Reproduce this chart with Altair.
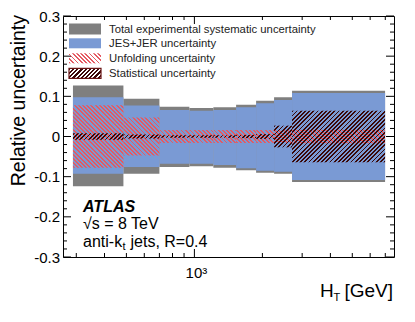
import math
import altair as alt
import pandas as pd

# ---------------- data ----------------
bin_lo = [290, 485, 700, 950, 1213, 1530, 1876, 2253, 2706]
bin_hi = [485, 700, 950, 1213, 1530, 1876, 2253, 2706, 6985]
tot_up = [0.127, 0.094, 0.074, 0.071, 0.073, 0.079, 0.089, 0.098, 0.114]
tot_dn = [-0.124, -0.093, -0.076, -0.074, -0.078, -0.084, -0.090, -0.093, -0.113]
jes_up = [0.0975, 0.077, 0.066, 0.064, 0.066, 0.073, 0.083, 0.091, 0.108]
jes_dn = [-0.093, -0.076, -0.068, -0.068, -0.071, -0.079, -0.085, -0.088, -0.108]
unf = [0.078, 0.047, 0.016, 0.016, 0.016, 0.016, 0.016, 0.016, 0.017]
stat = [0.008, 0.005, 0.003, 0.003, 0.003, 0.004, 0.006, 0.027, 0.064]

y_major = [-0.3, -0.2, -0.1, 0.0, 0.1, 0.2, 0.3]
y_labels = ["-0.3", "-0.2", "-0.1", "0", "0.1", "0.2", "0.3"]
y_minor = [round(i / 50, 2) for i in range(-15, 16) if i % 5 != 0]
x_major = [1000]
x_labels = ["10³"]
x_minor = [300, 400, 500, 600, 700, 800, 900, 2000, 3000, 4000, 5000, 6000, 7000]

legend_labels = [
    "Total experimental systematic uncertainty",
    "JES+JER uncertainty",
    "Unfolding uncertainty",
    "Statistical uncertainty",
]

# ---------------- style ----------------
FONT = "Liberation Sans"
W, H = 331, 241
X_DOMAIN = [262, 7650]
Y_DOMAIN = [-0.3, 0.3]
GREY = "#7f7f7f"
BLUE = "#7a9ad4"
RED = "#e45a62"
DARK = "#3a0808"
CLEAR = "rgba(255,255,255,0)"


def xpix(v):
    l0, l1 = math.log10(X_DOMAIN[0]), math.log10(X_DOMAIN[1])
    return W * (math.log10(v) - l0) / (l1 - l0)


def hpix(dy):
    return H * dy / (Y_DOMAIN[1] - Y_DOMAIN[0])


def hatch(w, h, color, slash, period=4.2, frac=0.45):
    """Diagonal stripes as a linear gradient in bounding-box units."""
    total = w + h
    n = int(math.ceil(total / period))
    stops = []
    for k in range(n):
        a = k * period / total
        if a >= 1:
            break
        b = min(1.0, (k + frac) * period / total)
        c = min(1.0, (k + 1) * period / total)
        stops += [
            {"offset": round(a, 5), "color": color},
            {"offset": round(b, 5), "color": color},
            {"offset": round(b, 5), "color": CLEAR},
            {"offset": round(c, 5), "color": CLEAR},
        ]
    kk = total / (w * w + h * h)
    if slash:
        x1, y1, x2, y2 = 0, 0, kk * w, kk * h
    else:
        x1, y1, x2, y2 = 0, 1, kk * w, 1 - kk * h
    return {"gradient": "linear", "x1": x1, "y1": y1, "x2": x2, "y2": y2, "stops": stops}


df = pd.DataFrame({
    "idx": list(range(len(bin_lo))),
    "lo": bin_lo, "hi": bin_hi,
    "tot_up": tot_up, "tot_dn": tot_dn,
    "jes_up": jes_up, "jes_dn": jes_dn,
    "unf_up": unf, "unf_dn": [-u for u in unf],
    "stat_up": stat, "stat_dn": [-s for s in stat],
})

xscale = alt.Scale(type="log", domain=X_DOMAIN, nice=False)
yscale = alt.Scale(domain=Y_DOMAIN, nice=False, zero=False)

layers = []

# total systematic (grey)
layers.append(alt.Chart(df).mark_rect(fill=GREY).encode(
    x=alt.X("lo:Q", scale=xscale, axis=None), x2="hi:Q",
    y=alt.Y("tot_dn:Q", scale=yscale, axis=None), y2="tot_up:Q"))

# JES+JER (blue)
layers.append(alt.Chart(df).mark_rect(fill=BLUE).encode(
    x=alt.X("lo:Q", axis=None), x2="hi:Q",
    y=alt.Y("jes_dn:Q", axis=None), y2="jes_up:Q"))

# unfolding (red hatch) and statistical (dark hatch), one layer per bin
for i in range(len(bin_lo)):
    w = xpix(bin_hi[i]) - xpix(bin_lo[i])
    layers.append(alt.Chart(df).transform_filter(alt.datum.idx == i).mark_rect(
        fill=hatch(w, hpix(2 * unf[i]), RED, slash=False)).encode(
        x=alt.X("lo:Q", axis=None), x2="hi:Q",
        y=alt.Y("unf_dn:Q", axis=None), y2="unf_up:Q"))
for i in range(len(bin_lo)):
    w = xpix(bin_hi[i]) - xpix(bin_lo[i])
    layers.append(alt.Chart(df).transform_filter(alt.datum.idx == i).mark_rect(
        fill=hatch(w, max(hpix(2 * stat[i]), 1), DARK, slash=True, frac=0.42)).encode(
        x=alt.X("lo:Q", axis=None), x2="hi:Q",
        y=alt.Y("stat_dn:Q", axis=None), y2="stat_up:Q"))

# inward ticks on all four sides
ymaj = pd.DataFrame({"v": y_major, "lab": y_labels})
ymin = pd.DataFrame({"v": y_minor})
xmaj = pd.DataFrame({"v": x_major, "lab": x_labels})
xmin = pd.DataFrame({"v": x_minor})
for d, L in ((ymaj, 8), (ymin, 4)):
    layers.append(alt.Chart(d).mark_rule(color="black", strokeWidth=1).encode(
        y=alt.Y("v:Q", axis=None), x=alt.value(0), x2=alt.value(L)))
    layers.append(alt.Chart(d).mark_rule(color="black", strokeWidth=1).encode(
        y=alt.Y("v:Q", axis=None), x=alt.value(W), x2=alt.value(W - L)))
for d, L in ((xmaj, 8), (xmin, 4)):
    layers.append(alt.Chart(d).mark_rule(color="black", strokeWidth=1).encode(
        x=alt.X("v:Q", axis=None), y=alt.value(H), y2=alt.value(H - L)))
    layers.append(alt.Chart(d).mark_rule(color="black", strokeWidth=1).encode(
        x=alt.X("v:Q", axis=None), y=alt.value(0), y2=alt.value(L)))

# tick labels
layers.append(alt.Chart(ymaj).mark_text(align="right", baseline="middle", font=FONT,
                                        fontSize=15, color="black", dx=-3, dy=0.5).encode(
    y=alt.Y("v:Q", axis=None), x=alt.value(0), text="lab:N"))
layers.append(alt.Chart(xmaj).mark_text(align="center", baseline="top", font=FONT,
                                        fontSize=15, color="black", dx=2).encode(
    x=alt.X("v:Q", axis=None), y=alt.value(H + 9), text="lab:N"))


def label(text, x, y, size, align="left", weight="normal", style="normal", angle=0,
          baseline="alphabetic", color="black"):
    return alt.Chart(pd.DataFrame({"t": [text]})).mark_text(
        align=align, baseline=baseline, fontSize=size, font=FONT, fontWeight=weight,
        fontStyle=style, angle=angle, color=color).encode(
        text="t:N", x=alt.value(x), y=alt.value(y))


# legend
rows = [13, 27.3, 42.3, 57.3]
sw_x0, sw_x1 = 6, 38
one = pd.DataFrame({"a": [0]})
legend_fills = [GREY, BLUE, hatch(32, 10, RED, slash=False), hatch(32, 10, DARK, slash=True, frac=0.5)]
for k, yc in enumerate(rows):
    hh = 5.5 if k == 0 else 5
    props = {"fill": legend_fills[k]}
    if k == 3:
        props.update(stroke="#6a1515", strokeWidth=1.2)
    layers.append(alt.Chart(one).mark_rect(**props).encode(
        x=alt.value(sw_x0), x2=alt.value(sw_x1), y=alt.value(yc - hh), y2=alt.value(yc + hh)))
    layers.append(label(legend_labels[k], 46, yc + 0.5, 11.3, baseline="middle", color="#222222"))

# ATLAS block
layers.append(label("ATLAS", 20, 196, 16, weight="bold", style="italic"))
layers.append(label("√s = 8 TeV", 20, 213, 16))
layers.append(label("anti-k", 20, 230.5, 16))
layers.append(label("t", 59.5, 234, 11))
layers.append(label("jets, R=0.4", 67.5, 230.5, 16))

# axis titles
layers.append(label("Relative uncertainty", -38, -1, 19.5, align="right", angle=270))
layers.append(label("H", 257, 281, 19))
layers.append(label("T", 270.5, 285, 11))
layers.append(label("[GeV]", 330, 281, 19, align="right"))

chart = alt.layer(*layers).properties(
    width=W, height=H,
    autosize=alt.AutoSizeParams(type="none"),
    padding={"left": 55, "top": 8, "right": 13, "bottom": 57},
    background="white",
).configure_view(stroke="black", strokeWidth=1)

chart.save("out.html", embed_options={"renderer": "svg", "actions": False})
